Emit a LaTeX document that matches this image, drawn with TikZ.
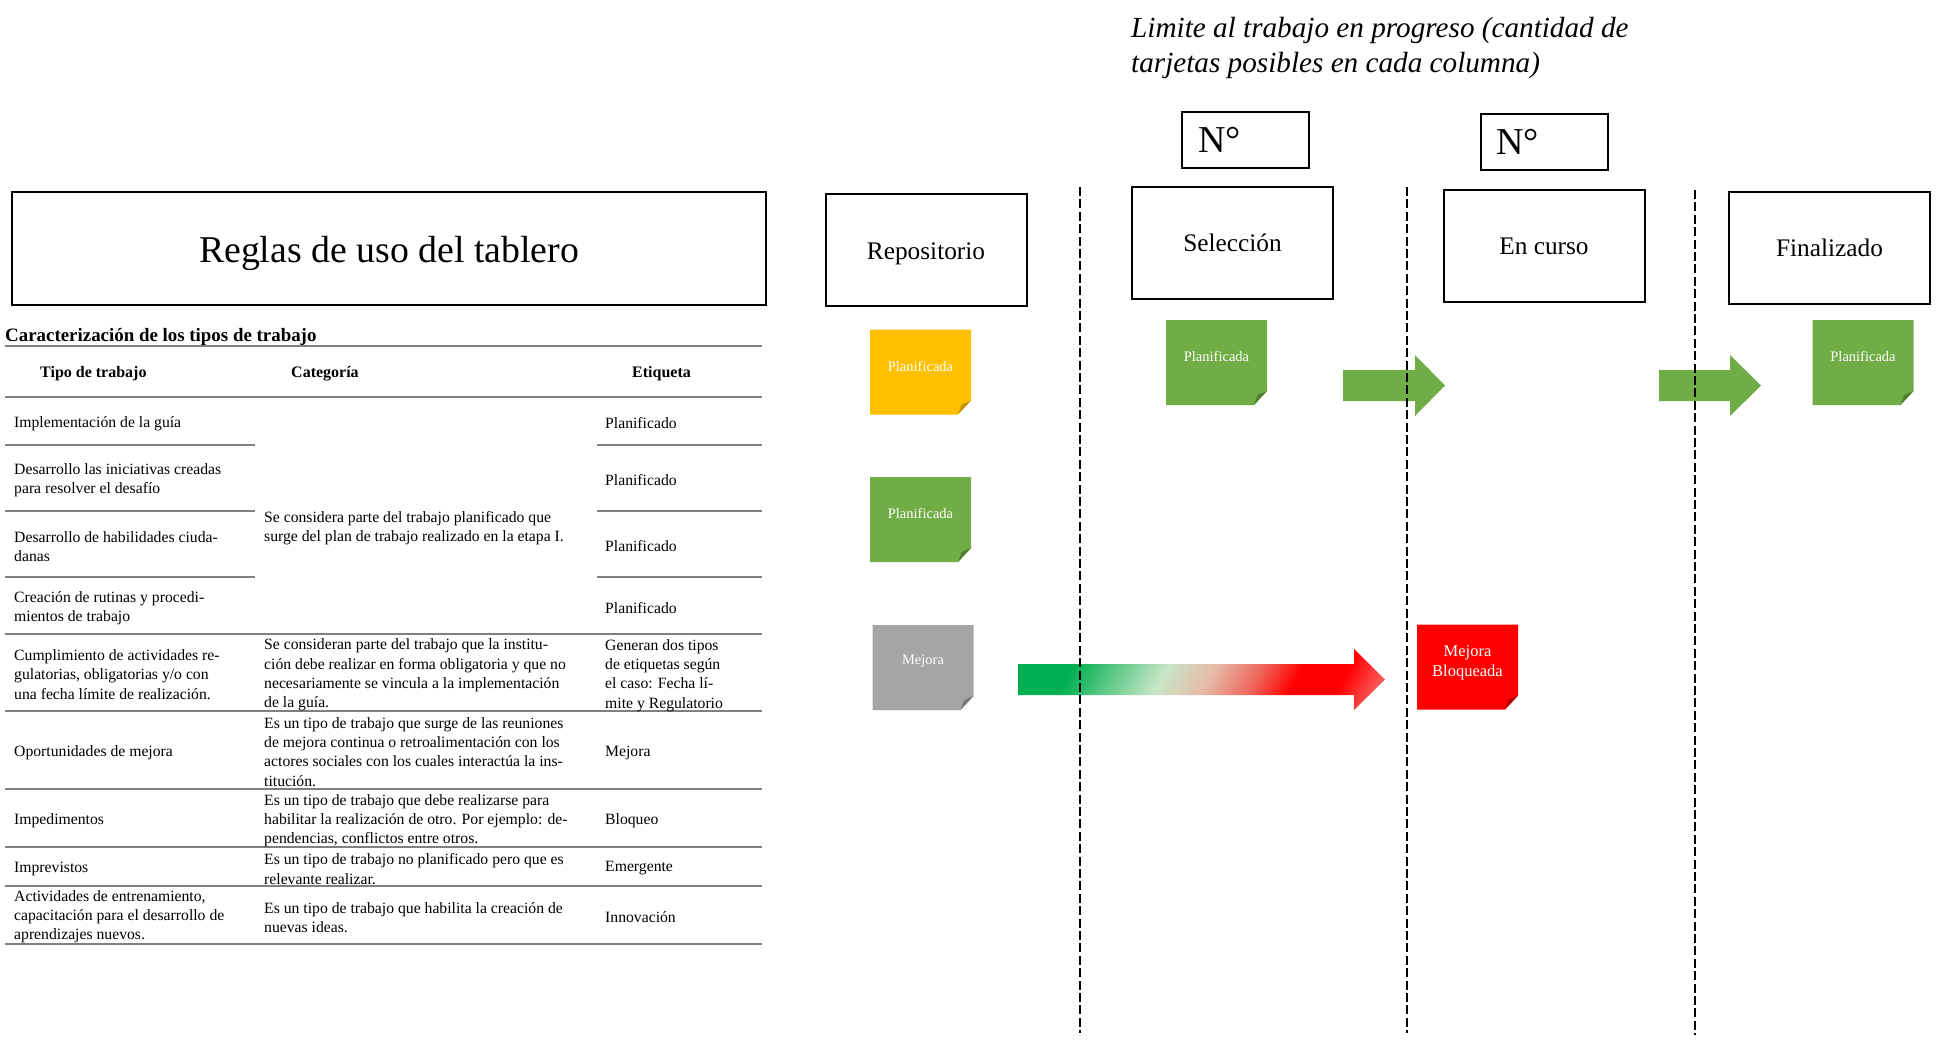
\documentclass[tikz,border=0pt]{standalone}
\usepackage{fontspec}
\setmainfont{Liberation Serif}
\definecolor{cyellow}{HTML}{FFC000}
\definecolor{cyellowd}{HTML}{C89600}
\definecolor{cgreen}{HTML}{70AD47}
\definecolor{cgreend}{HTML}{507E32}
\definecolor{cgray}{HTML}{A5A5A5}
\definecolor{cgrayd}{HTML}{7A7A7A}
\definecolor{cred}{HTML}{FF0000}
\definecolor{credd}{HTML}{B00000}
\definecolor{rulegray}{HTML}{808080}
\definecolor{gradG}{HTML}{00B050}
\definecolor{gradW}{HTML}{C8E6C6}
\definecolor{gradS}{HTML}{E6BCA8}
\definecolor{gradR}{HTML}{EE6A5E}
\definecolor{gradP}{HTML}{F4A4A4}
\pgfdeclarehorizontalshading{mejoragrad}{100bp}{color(0bp)=(gradG); color(27bp)=(gradG); color(43bp)=(gradW); color(51bp)=(gradS); color(59bp)=(gradR); color(66bp)=(red); color(74bp)=(red); color(86bp)=(gradP); color(100bp)=(gradP)}
\newcommand\cardup[2]{\raisebox{#1}[\height][\depth]{#2}}
\tikzset{
  card/.style n args={2}{minimum width=101pt, minimum height=85pt, inner sep=0pt, text=white,
    font=\fontsize{14.5}{17}\selectfont,
    path picture={
      \fill[#1] (path picture bounding box.north west) -- (path picture bounding box.north east)
        -- ([yshift=14pt]path picture bounding box.south east) -- ([xshift=-13pt]path picture bounding box.south east)
        -- (path picture bounding box.south west) -- cycle;
      \fill[#2] ([yshift=14pt]path picture bounding box.south east) -- ([xshift=-13pt]path picture bounding box.south east)
        -- ([xshift=-9.5pt,yshift=10pt]path picture bounding box.south east) -- cycle;
    }},
  colbox/.style={draw, line width=2pt, minimum width=201pt, minimum height=112pt, inner sep=0pt,
    font=\fontsize{25.3}{30}\selectfont},
  nbox/.style={draw, line width=2pt, minimum width=127pt, minimum height=56pt, text width=95pt,
    inner xsep=16pt, inner ysep=0pt, align=left, font=\fontsize{38}{40}\selectfont},
  cell/.style={anchor=west, inner sep=0pt, align=left, font=\fontsize{15.7}{19.2}\selectfont},
  hdr/.style={anchor=west, inner sep=0pt, font=\bfseries\fontsize{16}{19.2}\selectfont},
  tabrule/.style={draw=rulegray, line width=1.5pt},
  laneline/.style={line width=2.8pt, dash pattern=on 9pt off 3.4pt},
  blockarrow/.style={fill=cgreen},
}
\begin{document}
\begin{tikzpicture}[x=1pt,y=-1pt]
\useasboundingbox (0,0) rectangle (1944,1039);
\fill[white] (0,0) rectangle (1944,1039);

% ---- Left: title and table ----
\node[draw, line width=2pt, minimum width=754pt, minimum height=113pt, inner sep=0pt,
  font=\fontsize{37.8}{44}\selectfont] (title) at (389,248.5) {\cardup{-5pt}{Reglas de uso del tablero}};

\node[anchor=base west, inner sep=0pt, font=\bfseries\fontsize{18.9}{22}\selectfont] (caract) at (5,341)
  {Caracterización de los tipos de trabajo};

\draw[tabrule] (5,346) -- (762,346);
\draw[tabrule] (5,397) -- (762,397);
\draw[tabrule] (5,445) -- (255,445);
\draw[tabrule] (597,445) -- (762,445);
\draw[tabrule] (5,511) -- (255,511);
\draw[tabrule] (597,511) -- (762,511);
\draw[tabrule] (5,577) -- (255,577);
\draw[tabrule] (597,577) -- (762,577);
\draw[tabrule] (5,634) -- (762,634);
\draw[tabrule] (5,711) -- (762,711);
\draw[tabrule] (5,789) -- (762,789);
\draw[tabrule] (5,847) -- (762,847);
\draw[tabrule] (5,886) -- (762,886);
\draw[tabrule] (5,944) -- (762,944);

\node[hdr] (h1) at (40,374) {Tipo de trabajo};
\node[hdr] (h2) at (291,374) {Categoría};
\node[hdr] (h3) at (632,374) {Etiqueta};

\node[cell] (a1) at (14,424) {Implementación de la guía};
\node[cell] (a2) at (14,480.5) {Desarrollo las iniciativas creadas\\para resolver el desafío};
\node[cell] (a3) at (14,546.5) {Desarrollo de habilidades ciuda-\\danas};
\node[cell] (a4) at (14,608.5) {Creación de rutinas y procedi-\\mientos de trabajo};
\node[cell] (a5) at (14,674.5) {Cumplimiento de actividades re-\\gulatorias, obligatorias y/o con\\una fecha límite de realización.};
\node[cell] (a6) at (14,752.5) {Oportunidades de mejora};
\node[cell] (a7) at (14,820.5) {Impedimentos};
\node[cell] (a8) at (14,868.5) {Imprevistos};
\node[cell] (a9) at (14,917) {Actividades de entrenamiento,\\capacitación para el desarrollo de\\aprendizajes nuevos.};

\node[cell] (b1) at (264,528) {Se considera parte del trabajo planificado que\\surge del plan de trabajo realizado en la etapa I.};
\node[cell] (b5) at (264,675) {Se consideran parte del trabajo que la institu-\\ción debe realizar en forma obligatoria y que no\\necesariamente se vincula a la implementación\\de la guía.};
\node[cell] (b6) at (264,752) {Es un tipo de trabajo que surge de las reuniones\\de mejora continua o retroalimentación con los\\actores sociales con los cuales interactúa la ins-\\titución.};
\node[cell] (b7) at (264,820.5) {Es un tipo de trabajo que debe realizarse para\\habilitar la realización de otro. Por ejemplo: de-\\pendencias, conflictos entre otros.};
\node[cell] (b8) at (264,869) {Es un tipo de trabajo no planificado pero que es\\relevante realizar.};
\node[cell] (b9) at (264,918) {Es un tipo de trabajo que habilita la creación de\\nuevas ideas.};

\node[cell] (c1) at (605,423.5) {Planificado};
\node[cell] (c2) at (605,480.5) {Planificado};
\node[cell] (c3) at (605,546.5) {Planificado};
\node[cell] (c4) at (605,608.5) {Planificado};
\node[cell] (c5) at (605,675.5) {Generan dos tipos\\de etiquetas según\\el caso: Fecha lí-\\mite y Regulatorio};
\node[cell] (c6) at (605,752.5) {Mejora};
\node[cell] (c7) at (605,820.5) {Bloqueo};
\node[cell] (c8) at (605,868.5) {Emergente};
\node[cell] (c9) at (605,917.5) {Innovación};

% ---- Right: board ----
\node[anchor=west, inner sep=0pt, align=left, font=\itshape\fontsize{29.2}{35}\selectfont] (wip) at (1131,48)
  {Limite al trabajo en progreso (cantidad de\\tarjetas posibles en cada columna)};

\node[nbox] (n1) at (1245.5,140) {N°};
\node[nbox] (n2) at (1544,141.5) {N°};

\node[colbox] (repo) at (926,249.5) {\cardup{-4pt}{Repositorio}};
\node[colbox] (sel) at (1232.5,243) {Selección};
\node[colbox] (curso) at (1544,246) {En curso};
\node[colbox] (fin) at (1829.5,248) {Finalizado};

\node[card={cyellow}{cyellowd}] (cardY) at (920.5,372) {\cardup{6pt}{Planificada}};
\node[card={cgreen}{cgreend}] (cardG) at (920.5,519.5) {\cardup{6pt}{Planificada}};
\node[card={cgray}{cgrayd}] (cardM) at (923,667.5) {\cardup{6pt}{Mejora}};
\node[card={cgreen}{cgreend}] (cardS) at (1216.5,362.5) {\cardup{6pt}{Planificada}};
\node[card={cgreen}{cgreend}] (cardF) at (1863,362.5) {\cardup{6pt}{Planificada}};
\node[card={cred}{credd}, font=\fontsize{16.5}{20}\selectfont] (cardR) at (1467.5,667)
  {\cardup{5pt}{\begin{tabular}{@{}c@{}}Mejora\\Bloqueada\end{tabular}}};

% block arrows
\fill[blockarrow] (1343,370) -- (1415,370) -- (1415,355) -- (1445,385.5) -- (1415,416) -- (1415,401) -- (1343,401) -- cycle;
\fill[blockarrow] (1659,370) -- (1730,370) -- (1730,355) -- (1761,385.5) -- (1730,416) -- (1730,401) -- (1659,401) -- cycle;
\shade[shading=mejoragrad, shading angle=-28] (1018,664) -- (1354,664) -- (1354,649) -- (1385,679.5) -- (1354,710) -- (1354,695) -- (1018,695) -- cycle;

% lane separators
\draw[laneline] (1080,187) -- (1080,1033);
\draw[laneline] (1407,187) -- (1407,1033);
\draw[laneline] (1695,190) -- (1695,1035);
\end{tikzpicture}
\end{document}
